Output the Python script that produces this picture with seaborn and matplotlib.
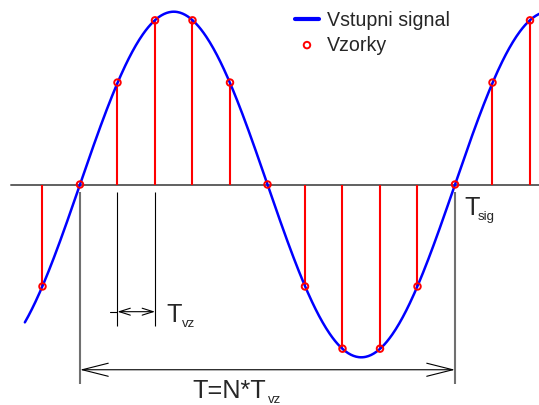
import numpy as np
import pandas as pd
import matplotlib
matplotlib.use("Agg")
import matplotlib.pyplot as plt
import seaborn as sns

# samples (index of sample, value)
sample_idx = [-1, 0, 1, 2, 3, 4, 5, 6, 7, 8, 9, 10, 11, 12]
sample_val = [-0.59, 0.0, 0.59, 0.95, 0.95, 0.59, 0.0, -0.59, -0.95, -0.95, -0.59, 0.0, 0.59, 0.95]

# input signal: sine with N samples per period
N = 10
amplitude = 1.0
t_start, t_end = -1.47, 12.6

line_label = 'Vstupni signal'
sample_label = 'Vzorky'

sns.set_style('white')
plt.rcParams['font.family'] = ['Liberation Sans', 'DejaVu Sans']

t = np.linspace(t_start, t_end, 600)
df_sig = pd.DataFrame({'t': t, 'y': amplitude * np.sin(2 * np.pi * t / N)})
df_smp = pd.DataFrame({'t': sample_idx, 'y': sample_val})

fig = plt.figure(figsize=(5.39, 4.06), dpi=100)
ax = fig.add_axes([0, 0, 1, 1])

# time axis
ax.plot([-1.84, 13], [0, 0], color='#606060', lw=1.4, zorder=1)

# stems
ax.vlines(df_smp['t'], 0, df_smp['y'], color='red', lw=1.5, zorder=2)

sns.lineplot(data=df_sig, x='t', y='y', color='blue', lw=1.8, label=line_label,
             ax=ax, zorder=3, sort=False)
sns.scatterplot(data=df_smp, x='t', y='y', marker='o', s=22, facecolor='none',
                edgecolor='red', linewidth=1.4, label=sample_label, ax=ax, zorder=4)

# dimension lines for T_vz
ax.vlines([1, 2], -0.045, -0.821, color='black', lw=0.8)
ax.plot([0.808, 1], [-0.736, -0.736], color='black', lw=0.8)
ax.annotate('', xy=(2, -0.736), xytext=(1, -0.736),
            arrowprops=dict(arrowstyle='<->,head_length=0.79,head_width=0.25',
                            color='black', lw=0.8, shrinkA=0, shrinkB=0,
                            mutation_scale=10))

# dimension lines for the whole period
ax.vlines([0, 10], -0.045, -1.154, color='#707070', lw=1.5)
ax.annotate('', xy=(10, -1.072), xytext=(0, -1.072),
            arrowprops=dict(arrowstyle='<->,head_length=1.87,head_width=0.47',
                            color='black', lw=0.8, shrinkA=0, shrinkB=0,
                            mutation_scale=10))

big = 18.2
small = 9.5
ax.text(2.293, -0.788, 'T', fontsize=big, va='baseline', ha='left')
ax.text(2.712, -0.817, 'vz', fontsize=small, va='baseline', ha='left')
ax.text(10.24, -0.171, 'T', fontsize=big, va='baseline', ha='left')
ax.text(10.605, -0.200, 'sig', fontsize=small, va='baseline', ha='left')
ax.text(3.005, -1.230, 'T=N*T', fontsize=big, va='baseline', ha='left')
ax.text(5.02, -1.258, 'vz', fontsize=small, va='baseline', ha='left')

ax.set_xlim(-2.133, 12.24)
ax.set_ylim(-1.276, 1.0735)
ax.axis('off')

leg = ax.legend(loc='upper left', bbox_to_anchor=(0.547, 0.972), bbox_transform=fig.transFigure,
                frameon=False, fontsize=14.1, borderpad=0, borderaxespad=0,
                handlelength=1.24, handletextpad=0.4, labelspacing=0.3)
leg.get_lines()[0].set_linewidth(3)

fig.savefig('out.png', dpi=100)
